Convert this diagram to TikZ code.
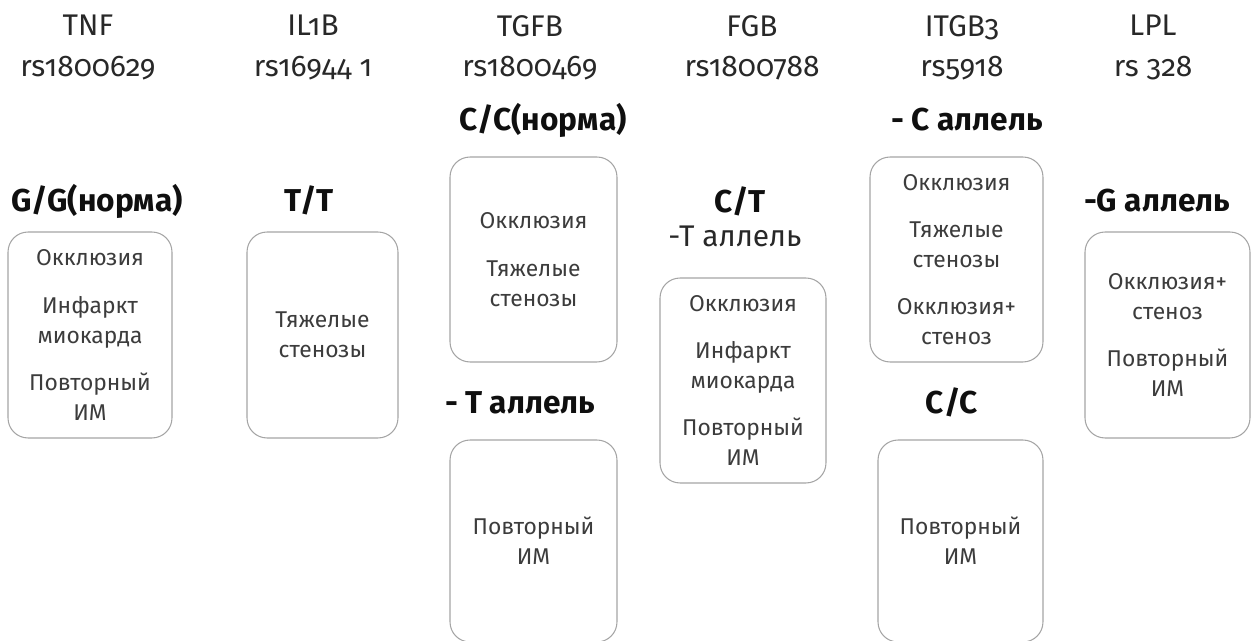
\documentclass[tikz,border=0pt]{standalone}
\usepackage{fontspec}
\setmainfont{Fira Sans}[Numbers=OldStyle]
\definecolor{BoxLine}{RGB}{165,165,165}
\definecolor{BoxText}{RGB}{60,60,60}
\definecolor{GeneText}{RGB}{40,40,40}
\definecolor{LabelText}{RGB}{15,15,15}

\begin{document}
\begin{tikzpicture}[
    x=0.02cm, y=-0.02cm,
    box/.style={rectangle, draw=BoxLine, line width=0.6pt, rounded corners=0.4cm, align=center, inner sep=0pt, text=BoxText, font=\fontsize{13}{17}\selectfont},
    gene/.style={anchor=north, align=center, inner sep=0pt, text=GeneText, font=\fontsize{17}{23}\selectfont},
    geno/.style={anchor=base, inner sep=0pt, text=LabelText, font=\fontsize{18}{22}\selectfont\bfseries},
    allele/.style={geno, font=\fontsize{17}{22}\selectfont, text=GeneText},
]
\useasboundingbox (0,0) rectangle (1252,641);

% ============================================
% GENES
% ============================================
\node[gene] (tnf) at (88,15) {TNF\\rs1800629};
\node[gene] (il1b) at (313,15) {IL1B\\rs16944 1};
\node[gene] (tgfb) at (530,15) {TGFB\\rs1800469};
\node[gene] (fgb) at (752,15) {FGB\\rs1800788};
\node[gene] (itgb) at (962,15) {ITGB3\\rs5918};
\node[gene] (lpl) at (1153,15) {LPL\\rs 328};

% ============================================
% GENOTYPES
% ============================================
\node[geno] (tnfgg) at (97,212) {G/G(норма)};
\node[geno] (iltt) at (309,212) {T/T};
\node[geno] (tgfcc) at (543,131) {C/C(норма)};
\node[geno] (tgft) at (520,414) {- T аллель};
\node[geno] (fgbct) at (740,213) {C/T};
\node[allele] (fgbt) at (735,247) {-T аллель};
\node[geno] (itgc) at (967,131) {- C аллель};
\node[geno] (itgcc) at (952,414) {C/C};
\node[geno] (lplg) at (1157,212) {-G аллель};

% ============================================
% OUTCOMES
% ============================================
\node[box, minimum width=3.28cm, minimum height=4.12cm] (tnfbox) at (90,335)
    {Окклюзия\\[10pt]Инфаркт\\миокарда\\[10pt]Повторный\\ИМ};
\node[box, minimum width=3.02cm, minimum height=4.12cm] (ilbox) at (322.5,335)
    {Тяжелые\\стенозы};
\node[box, minimum width=3.34cm, minimum height=4.10cm] (tgfccbox) at (533.5,259.5)
    {Окклюзия\\[10pt]Тяжелые\\стенозы};
\node[box, minimum width=3.34cm, minimum height=4.04cm] (tgftbox) at (533.5,541)
    {Повторный\\ИМ};
\node[box, minimum width=3.32cm, minimum height=4.10cm] (fgbbox) at (743,380.5)
    {Окклюзия\\[10pt]Инфаркт\\миокарда\\[10pt]Повторный\\ИМ};
\node[box, minimum width=3.46cm, minimum height=4.10cm] (itgcbox) at (956.5,259.5)
    {Окклюзия\\[10pt]Тяжелые\\стенозы\\[10pt]Окклюзия+\\стеноз};
\node[box, minimum width=3.30cm, minimum height=4.04cm] (itgccbox) at (960.5,541)
    {Повторный\\ИМ};
\node[box, minimum width=3.30cm, minimum height=4.12cm] (lplbox) at (1167.5,335)
    {Окклюзия+\\стеноз\\[10pt]Повторный\\ИМ};

\end{tikzpicture}
\end{document}
